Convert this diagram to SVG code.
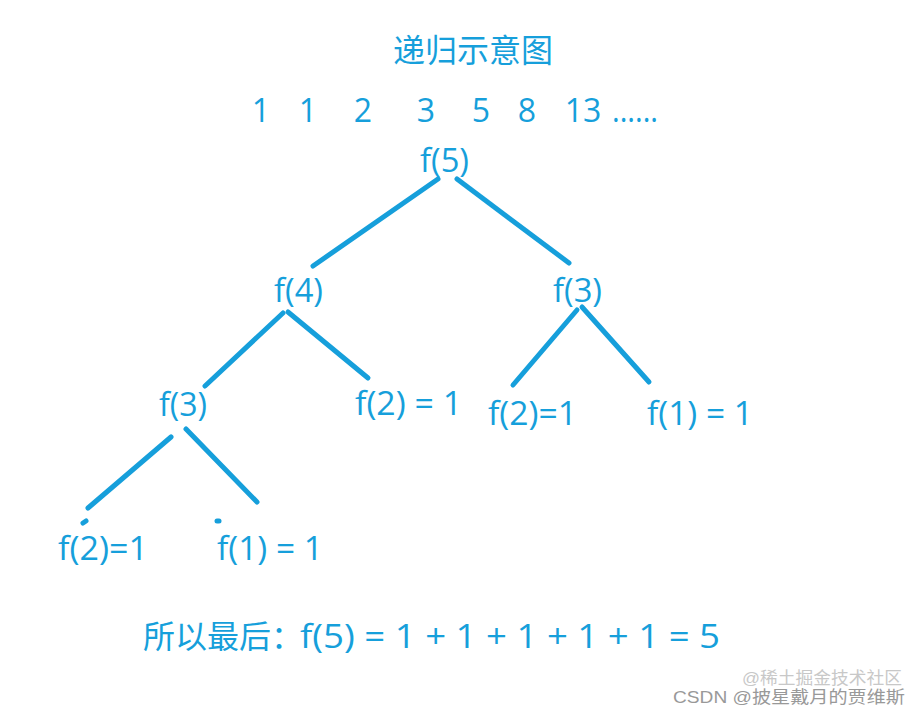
<svg xmlns="http://www.w3.org/2000/svg" width="921" height="715" viewBox="0 0 921 715">
<style>
.t{font-family:"Open Sans","Noto Sans CJK SC",sans-serif;font-size:32px;fill:#169fdb}
.e{stroke:#169fdb;stroke-width:5;stroke-linecap:round;fill:none}
.w{font-family:"Liberation Sans","Noto Sans CJK SC",sans-serif;font-size:17px}
</style>
<rect width="921" height="715" fill="#ffffff"/>
<g id="title"><text class="t" x="473" y="62" text-anchor="middle" font-size="31">递归示意图</text></g>
<g id="sequence">
<text class="t" x="261" y="122" text-anchor="middle">1</text>
<text class="t" x="308" y="122" text-anchor="middle">1</text>
<text class="t" x="363" y="122" text-anchor="middle">2</text>
<text class="t" x="426" y="122" text-anchor="middle">3</text>
<text class="t" x="481" y="122" text-anchor="middle">5</text>
<text class="t" x="527" y="122" text-anchor="middle">8</text>
<text class="t" x="583" y="122" text-anchor="middle">13</text>
<text class="t" x="612" y="122" textLength="46" lengthAdjust="spacingAndGlyphs">......</text>
</g>
<g id="connectors">
<line class="e" x1="438" y1="179" x2="313" y2="266"/>
<line class="e" x1="457" y1="179" x2="569" y2="263"/>
<line class="e" x1="283" y1="313" x2="205" y2="386"/>
<line class="e" x1="288" y1="312" x2="368" y2="378"/>
<line class="e" x1="577" y1="310" x2="513" y2="385"/>
<line class="e" x1="582" y1="307" x2="649" y2="382"/>
<line class="e" x1="171" y1="437" x2="88" y2="508"/>
<line class="e" x1="186" y1="429" x2="257" y2="502"/>
<line class="e" x1="83" y1="523" x2="86" y2="521"/>
<line class="e" x1="217" y1="521" x2="219" y2="521"/>
</g>
<g id="f5"><text class="t" x="420" y="172" textLength="49" lengthAdjust="spacingAndGlyphs">f(5)</text></g>
<g id="f4"><text class="t" x="274" y="302" textLength="49" lengthAdjust="spacingAndGlyphs">f(4)</text></g>
<g id="f3r"><text class="t" x="553" y="302" textLength="49" lengthAdjust="spacingAndGlyphs">f(3)</text></g>
<g id="f3l"><text class="t" x="159" y="416" textLength="48" lengthAdjust="spacingAndGlyphs">f(3)</text></g>
<g id="f2m"><text class="t" x="355" y="415" textLength="107" lengthAdjust="spacingAndGlyphs">f(2) = 1</text></g>
<g id="f2r"><text class="t" x="488" y="425" textLength="89" lengthAdjust="spacingAndGlyphs">f(2)=1</text></g>
<g id="f1r"><text class="t" x="647" y="425" textLength="106" lengthAdjust="spacingAndGlyphs">f(1) = 1</text></g>
<g id="f2l"><text class="t" x="58" y="560" textLength="90" lengthAdjust="spacingAndGlyphs">f(2)=1</text></g>
<g id="f1l"><text class="t" x="217" y="560" textLength="106" lengthAdjust="spacingAndGlyphs">f(1) = 1</text></g>
<g id="result"><text class="t" x="143" y="648" font-size="31"><tspan>所以最后：</tspan><tspan x="300" textLength="420" lengthAdjust="spacingAndGlyphs">f(5) = 1 + 1 + 1 + 1 + 1 = 5</tspan></text></g>
<g id="watermark">
<text class="w" x="742" y="684" fill="#c8c8c8" font-size="15" textLength="160" lengthAdjust="spacingAndGlyphs">@稀土掘金技术社区</text>
<text class="w" x="673" y="703" fill="#999999" textLength="232" lengthAdjust="spacingAndGlyphs">CSDN @披星戴月的贾维斯</text>
</g>
</svg>
